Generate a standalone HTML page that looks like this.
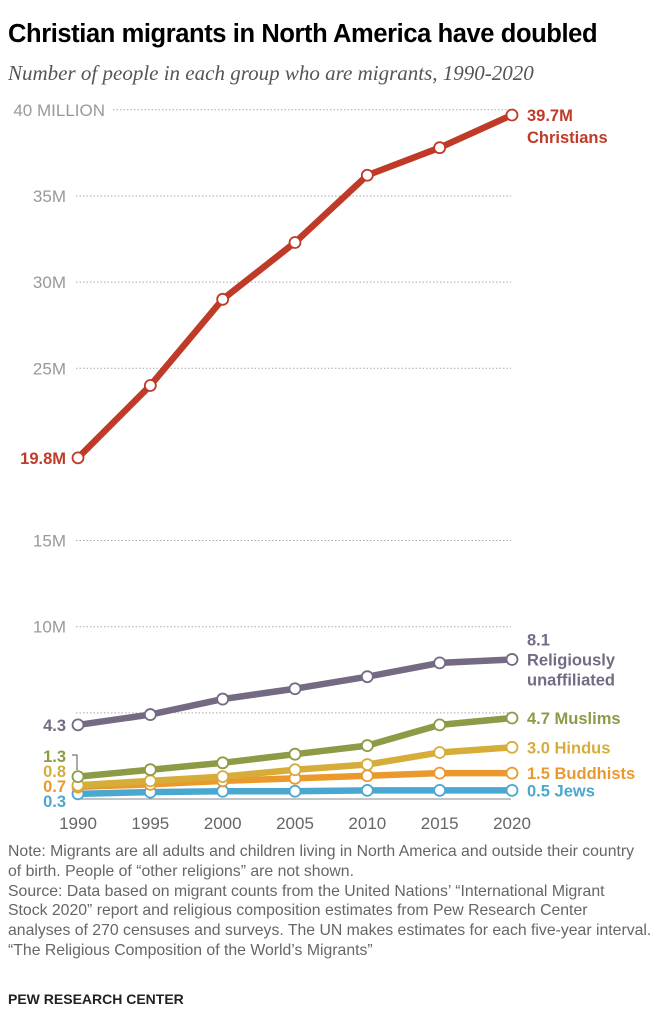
<!DOCTYPE html>
<html><head><meta charset="utf-8"><style>
body{margin:0;width:658px;height:1024px;background:#fff;overflow:hidden;font-family:"Liberation Sans",sans-serif}
#title{position:absolute;left:8px;top:20px;font-size:25.5px;font-weight:bold;color:#000;letter-spacing:-0.4px;white-space:nowrap}
#sub{position:absolute;left:8px;top:61px;font-family:"Liberation Serif",serif;font-style:italic;font-size:21px;color:#555;white-space:nowrap}
#note{position:absolute;left:8px;top:842px;width:650px;font-size:15.8px;line-height:19.8px;color:#666;white-space:nowrap}
#pew{position:absolute;left:8px;top:991px;font-size:14px;font-weight:bold;color:#222}
svg{position:absolute;left:0;top:0}
</style></head><body>
<div id="title">Christian migrants in North America have doubled</div>
<div id="sub">Number of people in each group who are migrants, 1990-2020</div>
<svg id="chart" width="658" height="840"></svg>
<div id="note">Note: Migrants are all adults and children living in North America and outside their country<br>of birth. People of “other religions” are not shown.<br>Source: Data based on migrant counts from the United Nations’ “International Migrant<br>Stock 2020” report and religious composition estimates from Pew Research Center<br>analyses of 270 censuses and surveys. The UN makes estimates for each five-year interval.<br>“The Religious Composition of the World’s Migrants”</div>
<div id="pew">PEW RESEARCH CENTER</div>
<script>
const years=[1990,1995,2000,2005,2010,2015,2020];
const yTicks=[5,10,15,25,30,35,40];
const yTickLabels=["","10M","15M","25M","30M","35M","40 MILLION"];
const christians=[19.8,24.0,29.0,32.3,36.2,37.8,39.7];
const unaffiliated=[4.3,4.9,5.8,6.4,7.1,7.9,8.1];
const muslims=[1.3,1.7,2.1,2.6,3.1,4.3,4.7];
const hindus=[0.8,1.05,1.3,1.7,2.0,2.7,3.0];
const buddhists=[0.7,0.85,1.05,1.2,1.35,1.5,1.5];
const jews=[0.3,0.4,0.45,0.45,0.5,0.5,0.5];
const NS="http://www.w3.org/2000/svg";
const svg=document.getElementById('chart');
const x=y=>78+(y-1990)/30*434;
const yv=v=>799-v*17.23;
function mk(t,a){const e=document.createElementNS(NS,t);for(const k in a)e.setAttribute(k,a[k]);svg.appendChild(e);return e;}
yTicks.forEach((t,i)=>{
  const lab=yTickLabels[i];
  const x0=lab==="40 MILLION"?113:76;
  const g=mk('line',{x1:x0,x2:511,y1:yv(t),y2:yv(t),stroke:'#aaa','stroke-width':1,'stroke-dasharray':'1.5,2'});
  
  
  if(lab){const tx=mk('text',{x:lab==="40 MILLION"?105:66,y:yv(t)+6,'text-anchor':'end','font-size':17,fill:'#999'});tx.textContent=lab;
  
  }
});
const base=mk('line',{x1:76,x2:511,y1:yv(0),y2:yv(0),stroke:'#888','stroke-width':1});


years.forEach(yr=>{const t=mk('text',{x:x(yr),y:829,'text-anchor':'middle','font-size':17,fill:'#666'});t.textContent=yr;
  
  });
const series=[
 {d:jews,c:'#4aa8d0',n:'jews'},
 {d:buddhists,c:'#ea9a2c',n:'buddhists'},
 {d:hindus,c:'#d7ad3a',n:'hindus'},
 {d:muslims,c:'#8d9b46',n:'muslims'},
 {d:unaffiliated,c:'#756a84',n:'unaffiliated'},
 {d:christians,c:'#c03a28',n:'christians'}];
series.forEach(s=>{
  const p=mk('polyline',{points:s.d.map((v,i)=>x(years[i])+','+yv(v)).join(' '),fill:'none',stroke:s.c,'stroke-width':6.5,'stroke-linejoin':'round'});
  
  
  s.d.forEach((v,i)=>{const c=mk('circle',{cx:x(years[i]),cy:yv(v),r:5.5,fill:'#fff',stroke:s.c,'stroke-width':1.8});
    
    });
});
function lab(txt,xx,yy,c,anchor){const t=mk('text',{x:xx,y:yy,'text-anchor':anchor||'start','font-size':16.5,'font-weight':'bold',fill:c});t.textContent=txt;
  
  return t;}
lab(christians[6].toFixed(1)+'M',527,yv(christians[6])+6,'#c03a28');
lab('Christians',527,yv(christians[6])+28,'#c03a28');
lab(christians[0].toFixed(1)+'M',66,yv(christians[0])+6,'#c03a28','end');
lab(unaffiliated[6].toFixed(1),527,yv(unaffiliated[6])-14,'#756a84');
lab('Religiously',527,yv(unaffiliated[6])+6,'#756a84');
lab('unaffiliated',527,yv(unaffiliated[6])+26,'#756a84');
lab(unaffiliated[0].toFixed(1),66,yv(unaffiliated[0])+6,'#756a84','end');
lab(muslims[6].toFixed(1)+' Muslims',527,yv(muslims[6])+6,'#8d9b46');
lab(hindus[6].toFixed(1)+' Hindus',527,yv(hindus[6])+6,'#d7ad3a');
lab(buddhists[6].toFixed(1)+' Buddhists',527,yv(buddhists[6])+6,'#ea9a2c');
lab(jews[6].toFixed(1)+' Jews',527,yv(jews[6])+6,'#4aa8d0');
lab(muslims[0].toFixed(1),66,762,'#8d9b46','end');
lab(hindus[0].toFixed(1),66,777,'#d7ad3a','end');
lab(buddhists[0].toFixed(1),66,792,'#ea9a2c','end');
lab(jews[0].toFixed(1),66,807,'#4aa8d0','end');
const br=mk('polyline',{points:'72,755 77,755 77,770',fill:'none',stroke:'#555','stroke-width':1});


</script>
</body></html>
